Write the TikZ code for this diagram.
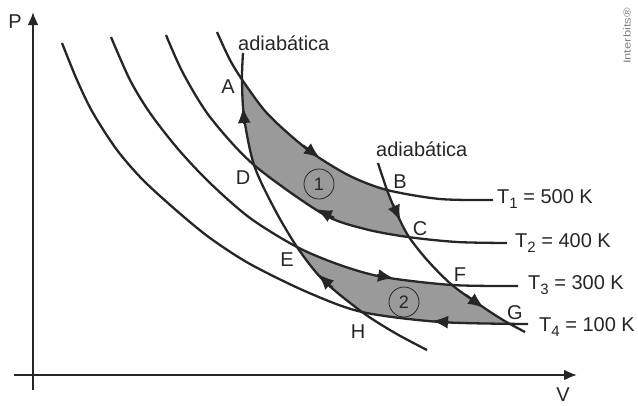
\documentclass[tikz,border=0pt]{standalone}
\usepackage{fontspec}
\setmainfont{Liberation Sans}
\usetikzlibrary{arrows.meta}
\definecolor{ink}{HTML}{262626}
\definecolor{cyclefill}{HTML}{9A9A9A}
\newcommand\labfont{\fontsize{20}{24}\selectfont}
\newcommand\sbs[1]{\raisebox{-5pt}{\fontsize{15}{15}\selectfont #1}}
\def\TA{plot[smooth] coordinates {(217,32) (230,60) (243,81) (265,111) (290,135) (315,155) (350,176) (387,190) (440,199) (493,200)}}
\def\TB{plot[smooth] coordinates {(166,35) (183,73) (210,117) (254,165) (323,214) (365,229) (408,237) (457,242) (507,243)}}
\def\TC{plot[smooth] coordinates {(111,37) (130,80) (150,113) (178,149) (210,183) (250,218) (297,247) (340,265) (383,277) (452,285) (518,286)}}
\def\TD{plot[smooth] coordinates {(62,43) (77,80) (93,113) (117,150) (143,180) (177,211) (210,238) (250,264) (307,292) (362,312) (440,322) (528,324)}}
\def\LA{plot[smooth] coordinates {(243,53) (242,79) (244,117) (254,165) (274,208) (297,247) (323,280) (362,312) (395,333) (427,350)}}
\def\RA{plot[smooth] coordinates {(378,163) (387,190) (397,214) (409,237) (428,261) (452,285) (480,305) (503,320) (525,332)}}
\begin{document}
\begin{tikzpicture}[x=1pt,y=-1pt,
  curve/.style={line width=2.3pt, draw=ink},
  axis/.style={line width=2.2pt, draw=ink, -{Latex[length=13pt,width=11pt]}},
  tip/.style={line width=2.3pt, draw=ink, fill=ink, -{Latex[length=16pt,width=13pt]}},
  lab/.style={inner sep=0pt, text=ink, font=\labfont},
  cyc/.style={circle, draw=ink, line width=0.8pt, minimum size=30pt, inner sep=0pt, text=ink, font=\fontsize{18}{18}\selectfont}]
\useasboundingbox (0,0) rectangle (638,405);
% shaded cycles
\begin{scope}
  \clip \TA -- (700,200) -- (700,420) -- (0,420) -- (0,32) -- cycle;
  \clip \TB -- (700,243) -- (700,-50) -- (166,-50) -- cycle;
  \clip \LA -- (427,420) -- (700,420) -- (700,-50) -- (243,-50) -- cycle;
  \clip \RA -- (525,420) -- (0,420) -- (0,-50) -- (378,-50) -- cycle;
  \fill[cyclefill] (0,0) rectangle (638,405);
\end{scope}
\begin{scope}
  \clip \TC -- (700,286) -- (700,420) -- (0,420) -- (0,37) -- cycle;
  \clip \TD -- (700,324) -- (700,-50) -- (62,-50) -- cycle;
  \clip \LA -- (427,420) -- (700,420) -- (700,-50) -- (243,-50) -- cycle;
  \clip \RA -- (525,420) -- (0,420) -- (0,-50) -- (378,-50) -- cycle;
  \fill[cyclefill] (0,0) rectangle (638,405);
\end{scope}
% curves
\draw[curve] \TA;
\draw[curve] \TB;
\draw[curve] \TC;
\draw[curve] \TD;
\draw[curve] \LA;
\draw[curve] \RA;
% arrow heads on the cycles
\draw[tip] (303,145.4) -- (320,158);
\draw[tip] (392.8,204) -- (400.5,221);
\draw[tip] (334,217.9) -- (316,209);
\draw[tip] (244.3,124) -- (243,107);
\draw[tip] (377,275.3) -- (394,278.3);
\draw[tip] (466,295) -- (484,308);
\draw[tip] (449,322.2) -- (432,321);
\draw[tip] (332.7,288) -- (318,274);
% axes
\coordinate (ybot) at (33,390);
\coordinate (ytop) at (33,12);
\coordinate (xleft) at (14,375);
\coordinate (xright) at (577,375);
\draw[axis] (ybot) -- (ytop);
\draw[axis] (xleft) -- (xright);
\node[lab] (P) at (15,22) {P};
\node[lab] (V) at (563,395) {V};
% labels
\node[lab, anchor=base west] (ad1) at (238,50) {adiabática};
\node[lab, anchor=base west] (ad2) at (376,156) {adiabática};
\node[lab] (A) at (228,87) {A};
\node[lab] (B) at (400,182) {B};
\node[lab] (C) at (420,229) {C};
\node[lab] (D) at (243,178) {D};
\node[lab] (E) at (287,260) {E};
\node[lab] (F) at (460,275) {F};
\node[lab] (G) at (515,313) {G};
\node[lab] (H) at (358,332) {H};
\node[lab, anchor=base west] (t1) at (497,203) {T\sbs{1} = 500 K};
\node[lab, anchor=base west] (t2) at (515,247) {T\sbs{2} = 400 K};
\node[lab, anchor=base west] (t3) at (528,289) {T\sbs{3} = 300 K};
\node[lab, anchor=base west] (t4) at (539,331) {T\sbs{4} = 100 K};
\node[cyc] (c1) at (319,184) {1};
\node[cyc] (c2) at (404,302) {2};
\node[rotate=90, inner sep=0pt, text=gray, font=\fontsize{10}{10}\selectfont] (ib) at (627,36) {\scalebox{1.3}[1]{Interbits®}};
\end{tikzpicture}
\end{document}
